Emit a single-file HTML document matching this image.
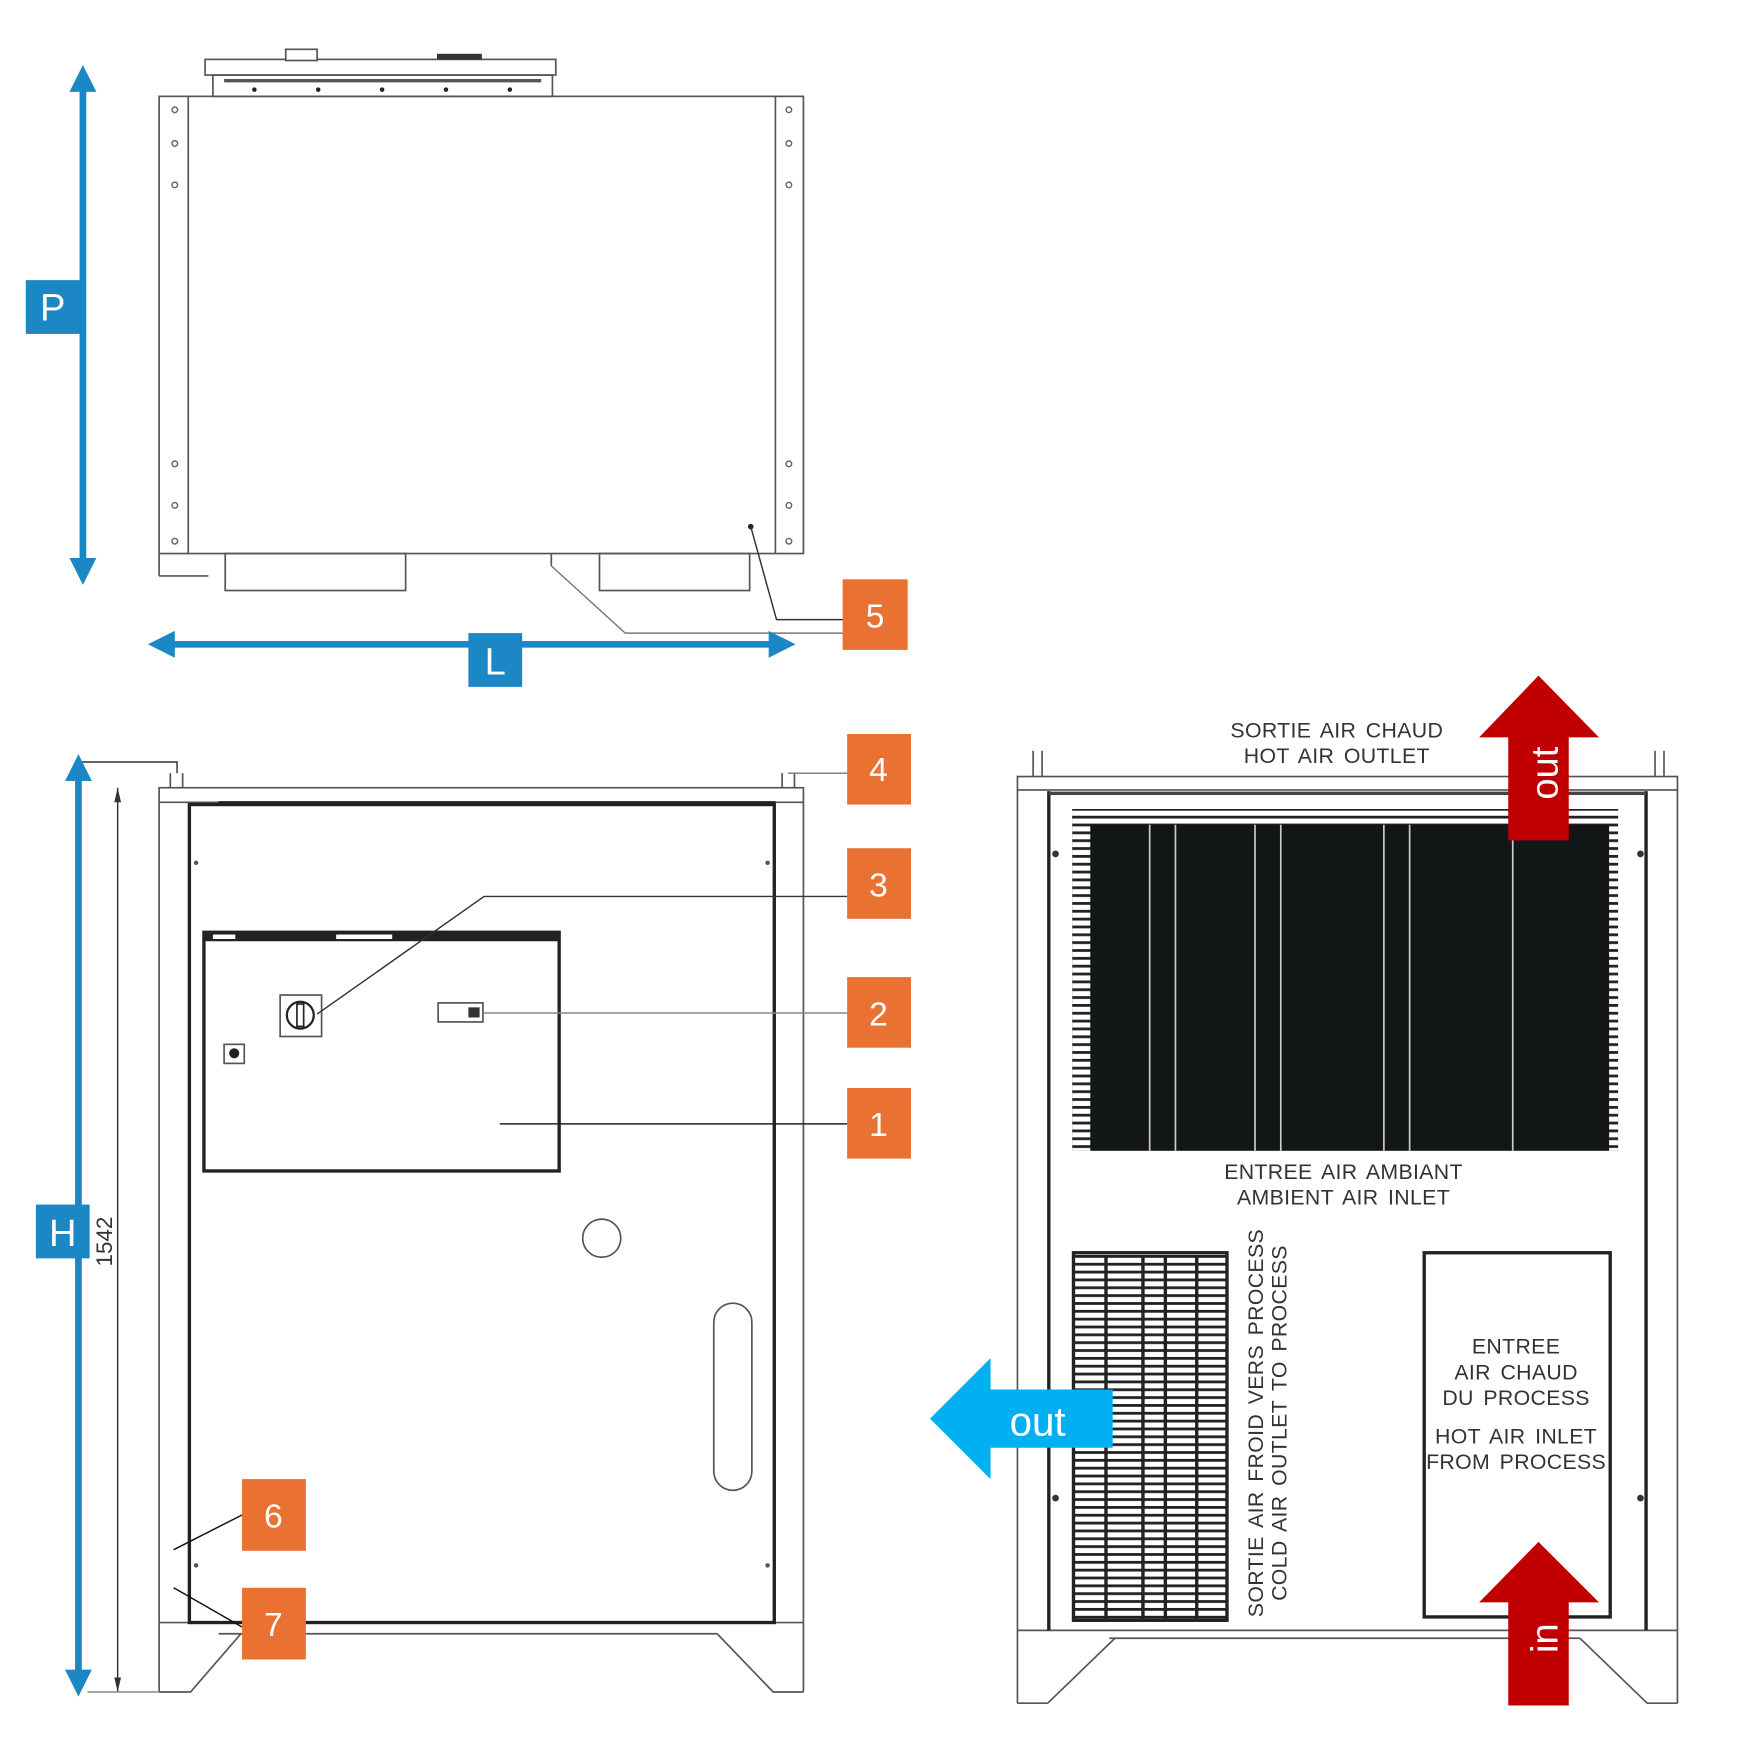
<!DOCTYPE html>
<html><head><meta charset="utf-8"><style>
html,body{margin:0;padding:0;background:#fff;}
svg{display:block;}
text{font-family:"Liberation Sans",sans-serif;}
.d{font-size:19px;fill:#333;letter-spacing:0.3px;word-spacing:3px;}
.n{font-size:30px;fill:#fff;text-anchor:middle;}
</style></head><body>
<svg width="1757" height="1757" viewBox="0 0 1568 1568" xmlns="http://www.w3.org/2000/svg">
<defs>
<pattern id="hb" x="0" y="1120" width="10" height="7" patternUnits="userSpaceOnUse"><rect width="10" height="7" fill="#fff"/><rect y="0" width="10" height="2.5" fill="#222"/></pattern>
</defs>
<g fill="none" stroke="#555" stroke-width="1.5">
<rect x="183" y="53" width="313" height="14" fill="#fff"/>
<rect x="190" y="67" width="303" height="19"/>
<line x1="200" y1="72" x2="483" y2="72" stroke-width="3"/>
<rect x="255" y="44" width="28" height="10" fill="#fff"/>
<rect x="390" y="48" width="40" height="5" fill="#333" stroke="none"/>
<rect x="142" y="86" width="575" height="408"/>
<line x1="168" y1="86" x2="168" y2="494"/>
<line x1="692" y1="86" x2="692" y2="494"/>
<rect x="201" y="494" width="161" height="33"/>
<rect x="535" y="494" width="134" height="33"/>
<line x1="492" y1="494" x2="492" y2="505"/>
<line x1="142" y1="494" x2="142" y2="514"/>
<line x1="142" y1="514" x2="186" y2="514"/>
</g>
<g fill="#222">
<circle cx="227" cy="80" r="2"/><circle cx="284" cy="80" r="2"/><circle cx="341" cy="80" r="2"/><circle cx="398" cy="80" r="2"/><circle cx="455" cy="80" r="2"/>
<circle cx="670" cy="470" r="2.5"/>
</g>
<g fill="none" stroke="#666" stroke-width="1.3">
<circle cx="156" cy="98" r="2.5"/><circle cx="156" cy="128" r="2.5"/><circle cx="156" cy="165" r="2.5"/><circle cx="156" cy="414" r="2.5"/><circle cx="156" cy="451" r="2.5"/><circle cx="156" cy="483" r="2.5"/>
<circle cx="704" cy="98" r="2.5"/><circle cx="704" cy="128" r="2.5"/><circle cx="704" cy="165" r="2.5"/><circle cx="704" cy="414" r="2.5"/><circle cx="704" cy="451" r="2.5"/><circle cx="704" cy="483" r="2.5"/>
</g>
<polyline points="670,470 693,553 752,553" fill="none" stroke="#333" stroke-width="1.3"/>
<polyline points="492,505 558,565 752,565" fill="none" stroke="#777" stroke-width="1.3"/>
<line x1="74" y1="78" x2="74" y2="502" stroke="#1b87c4" stroke-width="6"/>
<polygon points="74,58 62,82 86,82" fill="#1b87c4"/>
<polygon points="74,522 62,498 86,498" fill="#1b87c4"/>
<rect x="23" y="250" width="49" height="48" fill="#1b87c4"/>
<text x="47" y="286" class="n" style="font-size:34px">P</text>
<line x1="152" y1="575" x2="690" y2="575" stroke="#1b87c4" stroke-width="6"/>
<polygon points="132,575 156,563 156,587" fill="#1b87c4"/>
<polygon points="710,575 686,563 686,587" fill="#1b87c4"/>
<rect x="418" y="565" width="48" height="48" fill="#1b87c4"/>
<text x="442" y="602" class="n" style="font-size:34px">L</text>
<rect x="752" y="517" width="58" height="63" fill="#e97132"/>
<text x="781" y="560" class="n">5</text>

<g fill="none" stroke="#555" stroke-width="1.5">
<rect x="142" y="703" width="575" height="13"/>
<line x1="142" y1="716" x2="142" y2="1510"/>
<line x1="717" y1="716" x2="717" y2="1510"/>
<line x1="152" y1="690" x2="152" y2="703"/><line x1="163" y1="690" x2="163" y2="703"/>
<line x1="698" y1="690" x2="698" y2="703"/><line x1="709" y1="690" x2="709" y2="703"/>
<line x1="142" y1="1448" x2="717" y2="1448"/>
<line x1="195" y1="1458" x2="640" y2="1458"/>
<polyline points="142,1510 170,1510 215,1458"/>
<polyline points="717,1510 690,1510 640,1458"/>
<circle cx="537" cy="1105" r="17"/>
<rect x="637" y="1163" width="34" height="167" rx="17"/>
</g>
<rect x="169" y="718" width="522" height="730" fill="none" stroke="#222" stroke-width="3"/>
<line x1="195" y1="716" x2="692" y2="716" stroke="#222" stroke-width="2"/>
<rect x="182" y="832" width="317" height="213" fill="none" stroke="#222" stroke-width="3"/>
<rect x="182" y="832" width="317" height="8" fill="#222"/>
<rect x="190" y="834" width="20" height="4" fill="#fff"/><rect x="300" y="834" width="50" height="4" fill="#fff"/>
<rect x="250" y="888" width="37" height="37" fill="#fff" stroke="#555" stroke-width="1.5"/>
<circle cx="268" cy="906" r="12" fill="none" stroke="#222" stroke-width="2"/>
<rect x="265" y="896" width="6" height="20" fill="none" stroke="#222" stroke-width="1.5"/>
<rect x="391" y="895" width="40" height="17" fill="#fff" stroke="#555" stroke-width="1.5"/>
<rect x="418" y="899" width="10" height="9" fill="#333"/>
<rect x="200" y="932" width="18" height="17" fill="#fff" stroke="#555" stroke-width="1.5"/>
<circle cx="209" cy="940" r="4.5" fill="#222"/>
<g fill="#555"><circle cx="175" cy="770" r="2"/><circle cx="685" cy="770" r="2"/><circle cx="175" cy="1397" r="2"/><circle cx="685" cy="1397" r="2"/></g>
<g fill="none" stroke="#333" stroke-width="1.3">
<polyline points="283,905 432,800 756,800"/>
<line x1="431" y1="904" x2="756" y2="904" stroke="#888"/>
<line x1="446" y1="1003" x2="756" y2="1003" stroke="#222"/>
<line x1="703" y1="690" x2="756" y2="690" stroke="#777"/>
<line x1="155" y1="1383" x2="216" y2="1352" stroke="#111"/>
<line x1="155" y1="1417" x2="216" y2="1452" stroke="#111"/>
<polyline points="72,680 158,680 158,690"/>
<line x1="105" y1="703" x2="105" y2="1510"/>
<line x1="78" y1="1510" x2="142" y2="1510" stroke="#888"/>
</g>
<polygon points="105,703 102,716 108,716" fill="#333"/>
<polygon points="105,1510 102,1497 108,1497" fill="#333"/>
<text transform="translate(100,1108) rotate(-90)" style="font-size:20px;fill:#333" text-anchor="middle">1542</text>
<line x1="70" y1="693" x2="70" y2="1494" stroke="#1b87c4" stroke-width="6"/>
<polygon points="70,673 58,697 82,697" fill="#1b87c4"/>
<polygon points="70,1514 58,1490 82,1490" fill="#1b87c4"/>
<rect x="32" y="1075" width="48" height="48" fill="#1b87c4"/>
<text x="56" y="1112" class="n" style="font-size:34px">H</text>
<rect x="756" y="655" width="57" height="63" fill="#e97132"/><text x="784" y="697" class="n">4</text>
<rect x="756" y="757" width="57" height="63" fill="#e97132"/><text x="784" y="800" class="n">3</text>
<rect x="756" y="872" width="57" height="63" fill="#e97132"/><text x="784" y="915" class="n">2</text>
<rect x="756" y="971" width="57" height="63" fill="#e97132"/><text x="784" y="1014" class="n">1</text>
<rect x="216" y="1320" width="57" height="64" fill="#e97132"/><text x="244" y="1363" class="n">6</text>
<rect x="216" y="1417" width="57" height="64" fill="#e97132"/><text x="244" y="1460" class="n">7</text>

<g fill="none" stroke="#555" stroke-width="1.5">
<rect x="908" y="693" width="589" height="12"/>
<line x1="908" y1="705" x2="908" y2="1520"/>
<line x1="1497" y1="705" x2="1497" y2="1520"/>
<line x1="922" y1="670" x2="922" y2="693"/><line x1="930" y1="670" x2="930" y2="693"/>
<line x1="1477" y1="670" x2="1477" y2="693"/><line x1="1485" y1="670" x2="1485" y2="693"/>
<line x1="908" y1="1455" x2="1497" y2="1455"/>
<line x1="990" y1="1462" x2="1410" y2="1462"/>
<polyline points="908,1520 935,1520 995,1462"/>
<polyline points="1497,1520 1470,1520 1410,1462"/>
</g>
<line x1="936" y1="706" x2="936" y2="1455" stroke="#222" stroke-width="3"/>
<line x1="1469" y1="706" x2="1469" y2="1455" stroke="#222" stroke-width="3"/>
<line x1="936" y1="708" x2="1469" y2="708" stroke="#444" stroke-width="3"/>
<rect x="957" y="722" width="487" height="305" fill="#121617"/>
<rect x="957" y="722" width="487" height="14" fill="url(#hb)"/>
<rect x="957" y="722" width="16" height="305" fill="url(#hb)"/>
<rect x="1436" y="722" width="8" height="305" fill="url(#hb)"/>
<g stroke="#ccc" stroke-width="1.5">
<line x1="1026" y1="736" x2="1026" y2="1027"/><line x1="1049" y1="736" x2="1049" y2="1027"/><line x1="1120" y1="736" x2="1120" y2="1027"/><line x1="1143" y1="736" x2="1143" y2="1027"/><line x1="1235" y1="736" x2="1235" y2="1027"/><line x1="1258" y1="736" x2="1258" y2="1027"/><line x1="1350" y1="736" x2="1350" y2="1027"/>
</g>
<g fill="#333"><circle cx="942" cy="762" r="3"/><circle cx="1464" cy="762" r="3"/><circle cx="942" cy="1337" r="3"/><circle cx="1464" cy="1337" r="3"/></g>
<rect x="958" y="1118" width="137" height="328" fill="url(#hb)" stroke="#222" stroke-width="3"/>
<g stroke="#222" stroke-width="3"><line x1="987" y1="1120" x2="987" y2="1445"/><line x1="1020" y1="1120" x2="1020" y2="1445"/><line x1="1040" y1="1120" x2="1040" y2="1445"/><line x1="1068" y1="1120" x2="1068" y2="1445"/></g>
<rect x="1271" y="1118" width="166" height="325" fill="#fff" stroke="#222" stroke-width="3"/>
<text x="1193" y="658" class="d" text-anchor="middle">SORTIE AIR CHAUD</text>
<text x="1193" y="681" class="d" text-anchor="middle">HOT AIR OUTLET</text>
<text x="1199" y="1052" class="d" text-anchor="middle">ENTREE AIR AMBIANT</text>
<text x="1199" y="1075" class="d" text-anchor="middle">AMBIENT AIR INLET</text>
<text transform="translate(1127,1270) rotate(-90)" class="d" text-anchor="middle">SORTIE AIR FROID VERS PROCESS</text>
<text transform="translate(1148,1270) rotate(-90)" class="d" text-anchor="middle">COLD AIR OUTLET TO PROCESS</text>
<text x="1353" y="1208" class="d" text-anchor="middle">ENTREE</text>
<text x="1353" y="1231" class="d" text-anchor="middle">AIR CHAUD</text>
<text x="1353" y="1254" class="d" text-anchor="middle">DU PROCESS</text>
<text x="1353" y="1288" class="d" text-anchor="middle">HOT AIR INLET</text>
<text x="1353" y="1311" class="d" text-anchor="middle">FROM PROCESS</text>
<polygon points="1373,603 1427,658 1400,658 1400,750 1346,750 1346,658 1320,658" fill="#c00000"/>
<text transform="translate(1390,690) rotate(-90)" class="n" style="font-size:34px">out</text>
<polygon points="1373,1376 1427,1430 1400,1430 1400,1522 1346,1522 1346,1430 1320,1430" fill="#c00000"/>
<text transform="translate(1390,1462) rotate(-90)" class="n" style="font-size:34px">in</text>
<polygon points="830,1266 884,1212 884,1240 993,1240 993,1292 884,1292 884,1320" fill="#00b0f0"/>
<text x="926" y="1281" class="n" style="font-size:36px">out</text>
</svg>
</body></html>
